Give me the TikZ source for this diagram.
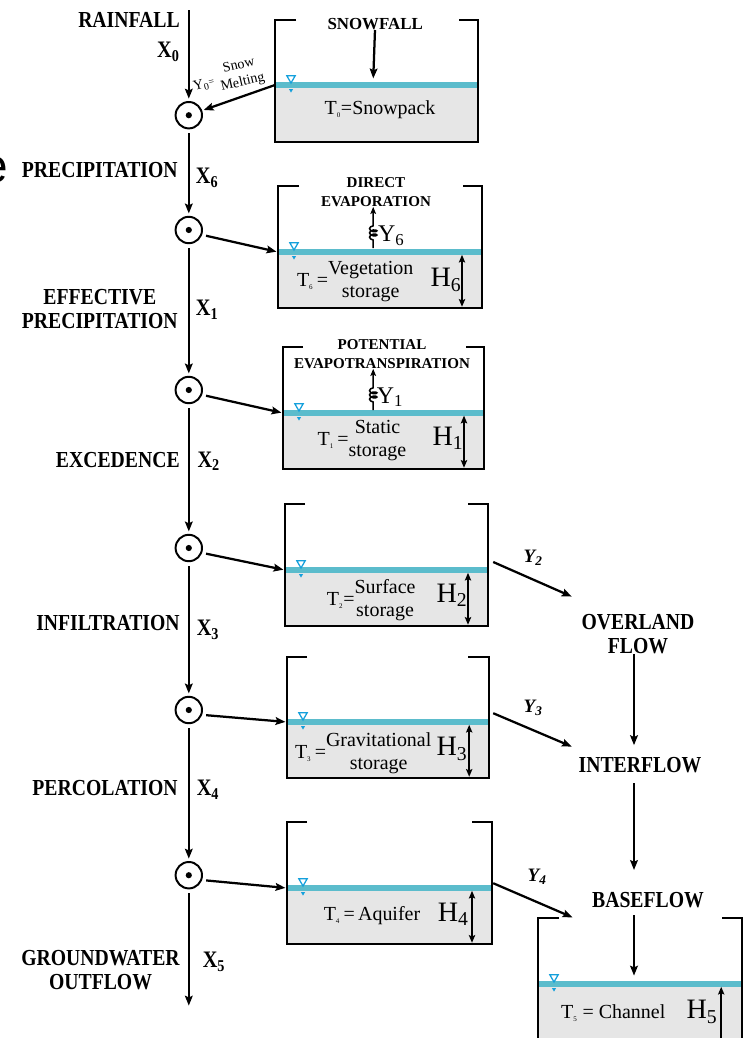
\documentclass[tikz,border=0pt]{standalone}
\usepackage{fontspec}
\setmainfont{Liberation Serif}
\newfontfamily\narrowserif[FakeStretch=0.86]{Liberation Serif}
\newfontfamily\slidesans{Liberation Sans}
\usepackage{tikz}
\usetikzlibrary{shapes,arrows.meta,decorations.pathmorphing}
\definecolor{waterblue}{RGB}{91,188,204}
\definecolor{levelblue}{RGB}{20,160,220}
\definecolor{pondgray}{RGB}{230,230,230}
\pgfdeclarelayer{edgelayer}
\pgfdeclarelayer{nodelayer}
\pgfsetlayers{edgelayer,nodelayer,main}
\tikzstyle{none}=[inner sep=0pt]
\tikzstyle{junction}=[circle,draw=black,fill=white,line width=1.400,minimum size=0.66cm,inner sep=0pt,path picture={\fill [black] (path picture bounding box.center) circle (2.2pt);}]
\tikzstyle{flowlabel}=[inner sep=0pt,align=center,font=\narrowserif\bfseries\fontsize{16.3}{16.8}\selectfont]
\tikzstyle{fluxlabel}=[inner sep=0pt,font=\narrowserif\bfseries\fontsize{16.8}{17}\selectfont]
\tikzstyle{smalllabel}=[inner sep=0pt,align=center,font=\bfseries\fontsize{10.7}{13.5}\selectfont]
\tikzstyle{tanktext}=[inner sep=0pt,font=\fontsize{14.2}{16.4}\selectfont]
\tikzstyle{hlabel}=[inner sep=0pt,font=\fontsize{20}{20}\selectfont]
\tikzstyle{vlabel}=[inner sep=0pt,font=\fontsize{17}{17}\selectfont]
\tikzstyle{runoff}=[inner sep=0pt,font=\bfseries\itshape\fontsize{13.5}{14}\selectfont]
\tikzstyle{meltlabel}=[inner sep=0pt,align=center,rotate=13,font=\fontsize{10}{12.2}\selectfont]
\tikzstyle{levelsign}=[regular polygon,regular polygon sides=3,shape border rotate=180,draw=levelblue,line width=0.900,minimum size=0.24cm,inner sep=0pt]
\tikzstyle{levelsub}=[regular polygon,regular polygon sides=3,shape border rotate=180,fill=levelblue,minimum size=0.12cm,inner sep=0pt]
\tikzstyle{wall}=[-,line width=2.100]
\tikzstyle{water}=[-,draw=waterblue,line width=4.200]
\tikzstyle{pond}=[fill=pondgray]
\tikzstyle{inarrow}=[-{Stealth[length=7pt,width=5.5pt,inset=1.2pt]}, line width=1.600, shorten >=.04cm]
\tikzstyle{mainarrow}=[-{Stealth[length=7pt,width=5.5pt,inset=1.2pt]}, line width=1.400, shorten >=.06cm]
\tikzstyle{gauge}=[{Stealth[length=5.5pt,width=4.5pt,inset=1pt]}-{Stealth[length=5.5pt,width=4.5pt,inset=1pt]}, line width=1.200, shorten >=.03cm]
\tikzstyle{vapour}=[-{Stealth[length=5pt,width=4pt,inset=1pt]}, line width=1.100, decorate, decoration={coil,amplitude=2.6pt,segment length=3pt,pre length=.2cm,post length=.38cm}]

\begin{document}
\begin{tikzpicture}
	\useasboundingbox (0, 0) rectangle (18.65, -25.95);
	\begin{pgfonlayer}{nodelayer}
		\node [style=junction] (0) at (4.72, -2.88) {};
		\node [style=junction] (1) at (4.72, -5.75) {};
		\node [style=junction] (2) at (4.72, -9.75) {};
		\node [style=junction] (3) at (4.72, -13.7) {};
		\node [style=junction] (4) at (4.72, -17.75) {};
		\node [style=junction] (5) at (4.72, -21.88) {};
		\node [style=none] (6) at (4.72, -0.25) {};
		\node [style=none] (7) at (4.72, -25.2) {};
		\node [style=flowlabel, anchor=east] (8) at (4.5, -0.49) {RAINFALL};
		\node [style=fluxlabel] (9) at (4.21, -1.3) {X\textsubscript{0}};
		\node [style=flowlabel, anchor=east] (10) at (4.45, -4.25) {PRECIPITATION};
		\node [style=fluxlabel] (11) at (5.18, -4.45) {X\textsubscript{6}};
		\node [style=flowlabel, anchor=east] (12) at (4.45, -7.73) {EFFECTIVE\\PRECIPITATION};
		\node [style=fluxlabel] (13) at (5.18, -7.75) {X\textsubscript{1}};
		\node [style=flowlabel, anchor=east] (14) at (4.5, -11.5) {EXCEDENCE};
		\node [style=fluxlabel] (15) at (5.22, -11.53) {X\textsubscript{2}};
		\node [style=flowlabel, anchor=east] (16) at (4.5, -15.58) {INFILTRATION};
		\node [style=fluxlabel] (17) at (5.2, -15.75) {X\textsubscript{3}};
		\node [style=flowlabel, anchor=east] (18) at (4.45, -19.7) {PERCOLATION};
		\node [style=fluxlabel] (19) at (5.2, -19.75) {X\textsubscript{4}};
		\node [style=flowlabel, anchor=east] (20) at (4.5, -24.25) {GROUNDWATER\\OUTFLOW};
		\node [style=fluxlabel] (21) at (5.35, -24.05) {X\textsubscript{5}};
		\node [style=flowlabel] (22) at (15.95, -15.85) {OVERLAND\\FLOW};
		\node [style=flowlabel] (23) at (16.0, -19.13) {INTERFLOW};
		\node [style=flowlabel] (24) at (16.2, -22.5) {BASEFLOW};
		\node [style=runoff] (25) at (13.33, -13.95) {Y\textsubscript{2}};
		\node [style=runoff] (26) at (13.33, -17.7) {Y\textsubscript{3}};
		\node [style=runoff] (27) at (13.43, -21.93) {Y\textsubscript{4}};
		\node [style=none] (28) at (12.33, -14.05) {};
		\node [style=none] (29) at (14.33, -14.93) {};
		\node [style=none] (30) at (12.33, -17.83) {};
		\node [style=none] (31) at (14.33, -18.68) {};
		\node [style=none] (32) at (12.33, -22.08) {};
		\node [style=none] (33) at (14.35, -22.95) {};
		\node [style=meltlabel] (34) at (5.1, -2.12) {Y\textsubscript{0}\raisebox{.3ex}{\scriptsize=}};
		\node [style=meltlabel] (35) at (6.02, -1.86) {Snow\\Melting};
		\node [style=none, anchor=base east, font=\slidesans\fontsize{34}{34}\selectfont] (36) at (0.22, -4.55) {e};
		% snowpack
		\node [style=none] (100) at (7.4, -0.5) {};
		\node [style=none] (101) at (6.875, -3.55) {};
		\node [style=none] (102) at (11.95, -0.5) {};
		\node [style=none] (103) at (11.475, -0.5) {};
		\node [style=none] (104) at (6.875, -2.125) {};
		\node [style=none] (105) at (11.95, -2.125) {};
		\node [style=levelsign] (106) at (7.275, -1.955) {};
		\node [style=levelsub] (107) at (7.275, -2.255) {};
		\node [style=tanktext] (108) at (9.5, -2.75) {T\textsubscript{\tiny 0}=Snowpack};
		\node [style=smalllabel, font=\bfseries\fontsize{12}{13}\selectfont] (112) at (9.38, -0.6) {SNOWFALL};
		\node [style=none] (113) at (9.33, -2.0) {};
		% vegetation
		\node [style=none] (120) at (7.475, -4.65) {};
		\node [style=none] (121) at (6.95, -7.7) {};
		\node [style=none] (122) at (12.05, -4.65) {};
		\node [style=none] (123) at (11.575, -4.65) {};
		\node [style=none] (124) at (6.95, -6.3) {};
		\node [style=none] (125) at (12.05, -6.3) {};
		\node [style=levelsign] (126) at (7.35, -6.13) {};
		\node [style=levelsub] (127) at (7.35, -6.43) {};
		\node [style=tanktext] (128) at (8.88, -7.03) {T\textsubscript{\tiny 6}\,=\begin{tabular}{@{}c@{}}Vegetation\\storage\end{tabular}};
		\node [style=hlabel] (129) at (11.15, -7.0) {H\textsubscript{6}};
		\node [style=none] (130) at (11.55, -6.37) {};
		\node [style=smalllabel] (132) at (9.4, -4.8) {DIRECT\\EVAPORATION};
		\node [style=none] (133) at (9.33, -6.2) {};
		\node [style=vlabel] (134) at (9.78, -5.9) {Y\textsubscript{6}};
		% static
		\node [style=none] (140) at (7.575, -8.675) {};
		\node [style=none] (141) at (7.075, -11.725) {};
		\node [style=none] (142) at (12.1, -8.675) {};
		\node [style=none] (143) at (11.65, -8.675) {};
		\node [style=none] (144) at (7.075, -10.325) {};
		\node [style=none] (145) at (12.1, -10.325) {};
		\node [style=levelsign] (146) at (7.475, -10.155) {};
		\node [style=levelsub] (147) at (7.475, -10.455) {};
		\node [style=tanktext] (148) at (9.05, -11.0) {T\textsubscript{\tiny 1}\,=\begin{tabular}{@{}c@{}}Static\\storage\end{tabular}};
		\node [style=hlabel] (149) at (11.2, -10.95) {H\textsubscript{1}};
		\node [style=none] (150) at (11.6, -10.39) {};
		\node [style=smalllabel] (152) at (9.55, -8.85) {POTENTIAL\\EVAPOTRANSPIRATION};
		\node [style=none] (153) at (9.33, -10.25) {};
		\node [style=vlabel] (154) at (9.75, -9.93) {Y\textsubscript{1}};
		% surface
		\node [style=none] (160) at (7.625, -12.6) {};
		\node [style=none] (161) at (7.125, -15.65) {};
		\node [style=none] (162) at (12.2, -12.6) {};
		\node [style=none] (163) at (11.7, -12.6) {};
		\node [style=none] (164) at (7.125, -14.25) {};
		\node [style=none] (165) at (12.2, -14.25) {};
		\node [style=levelsign] (166) at (7.525, -14.08) {};
		\node [style=levelsub] (167) at (7.525, -14.38) {};
		\node [style=tanktext] (168) at (9.28, -15.0) {T\textsubscript{\tiny 2}=\begin{tabular}{@{}c@{}}Surface\\storage\end{tabular}};
		\node [style=hlabel] (169) at (11.3, -14.88) {H\textsubscript{2}};
		\node [style=none] (170) at (11.7, -14.32) {};
		% gravitational
		\node [style=none] (180) at (7.675, -16.425) {};
		\node [style=none] (181) at (7.175, -19.45) {};
		\node [style=none] (182) at (12.225, -16.425) {};
		\node [style=none] (183) at (11.7, -16.425) {};
		\node [style=none] (184) at (7.175, -18.05) {};
		\node [style=none] (185) at (12.225, -18.05) {};
		\node [style=levelsign] (186) at (7.575, -17.88) {};
		\node [style=levelsub] (187) at (7.575, -18.18) {};
		\node [style=tanktext] (188) at (9.08, -18.83) {T\textsubscript{\tiny 3}\,=\begin{tabular}{@{}c@{}}Gravitational\\storage\end{tabular}};
		\node [style=hlabel] (189) at (11.3, -18.72) {H\textsubscript{3}};
		\node [style=none] (190) at (11.73, -18.12) {};
		% aquifer
		\node [style=none] (200) at (7.675, -20.55) {};
		\node [style=none] (201) at (7.175, -23.6) {};
		\node [style=none] (202) at (12.3, -20.55) {};
		\node [style=none] (203) at (11.8, -20.55) {};
		\node [style=none] (204) at (7.175, -22.2) {};
		\node [style=none] (205) at (12.3, -22.2) {};
		\node [style=levelsign] (206) at (7.575, -22.03) {};
		\node [style=levelsub] (207) at (7.575, -22.33) {};
		\node [style=tanktext] (208) at (9.3, -22.88) {T\textsubscript{\tiny 4}\,=\,Aquifer};
		\node [style=hlabel] (209) at (11.33, -22.85) {H\textsubscript{4}};
		\node [style=none] (210) at (11.8, -22.27) {};
		% channel
		\node [style=none] (220) at (13.975, -22.95) {};
		\node [style=none] (221) at (13.45, -26.5) {};
		\node [style=none] (222) at (18.55, -22.95) {};
		\node [style=none] (223) at (18.05, -22.95) {};
		\node [style=none] (224) at (13.45, -24.6) {};
		\node [style=none] (225) at (18.55, -24.6) {};
		\node [style=levelsign] (226) at (13.85, -24.43) {};
		\node [style=levelsub] (227) at (13.85, -24.73) {};
		\node [style=tanktext] (228) at (15.33, -25.33) {T\textsubscript{\tiny 5} = Channel};
		\node [style=hlabel] (229) at (17.55, -25.3) {H\textsubscript{5}};
		\node [style=none] (230) at (18.03, -24.67) {};
		\node [style=none] (233) at (15.85, -24.43) {};
	\end{pgfonlayer}
	\begin{pgfonlayer}{edgelayer}
		\fill [style=pond] (101.center) rectangle (105.center);
		\fill [style=pond] (121.center) rectangle (125.center);
		\fill [style=pond] (141.center) rectangle (145.center);
		\fill [style=pond] (161.center) rectangle (165.center);
		\fill [style=pond] (181.center) rectangle (185.center);
		\fill [style=pond] (201.center) rectangle (205.center);
		\fill [style=pond] (221.center) rectangle (225.center);
		\draw [style=water] (104.center) to (105.center);
		\draw [style=water] (124.center) to (125.center);
		\draw [style=water] (144.center) to (145.center);
		\draw [style=water] (164.center) to (165.center);
		\draw [style=water] (184.center) to (185.center);
		\draw [style=water] (204.center) to (205.center);
		\draw [style=water] (224.center) to (225.center);
		\draw [style=wall] (100.center) -| (101.center) -| (102.center) -- (103.center);
		\draw [style=wall] (120.center) -| (121.center) -| (122.center) -- (123.center);
		\draw [style=wall] (140.center) -| (141.center) -| (142.center) -- (143.center);
		\draw [style=wall] (160.center) -| (161.center) -| (162.center) -- (163.center);
		\draw [style=wall] (180.center) -| (181.center) -| (182.center) -- (183.center);
		\draw [style=wall] (200.center) -| (201.center) -| (202.center) -- (203.center);
		\draw [style=wall] (220.center) -| (221.center) -| (222.center) -- (223.center);
		\draw [style=mainarrow] (6.center) to (0);
		\draw [style=mainarrow, shorten <=.1cm] (0) to (1);
		\draw [style=mainarrow, shorten <=.1cm] (1) to (2);
		\draw [style=mainarrow, shorten <=.1cm] (2) to (3);
		\draw [style=mainarrow, shorten <=.1cm] (3) to (4);
		\draw [style=mainarrow, shorten <=.1cm] (4) to (5);
		\draw [style=mainarrow, shorten <=.1cm] (5) to (7.center);
		\draw [style=inarrow] (104.center) to (0);
		\draw [style=inarrow, shorten <=.1cm] (1.-20) to (124.center);
		\draw [style=inarrow, shorten <=.1cm] (2.-20) to (144.center);
		\draw [style=inarrow, shorten <=.1cm] (3.-20) to (164.center);
		\draw [style=inarrow, shorten <=.1cm] (4.-20) to (184.center);
		\draw [style=inarrow, shorten <=.1cm] (5.-20) to (204.center);
		\draw [style=inarrow] (112) to (113.center);
		\draw [style=vapour] (133.center) to (133.center |- 132.south);
		\draw [style=vapour] (153.center) to (153.center |- 152.south);
		\draw [style=gauge] (130.center) to (130.center |- 121.center);
		\draw [style=gauge] (150.center) to (150.center |- 141.center);
		\draw [style=gauge] (170.center) to (170.center |- 161.center);
		\draw [style=gauge] (190.center) to (190.center |- 181.center);
		\draw [style=gauge] (210.center) to (210.center |- 201.center);
		\draw [style=gauge] (230.center) to (230.center |- 221.center);
		\draw [style=inarrow] (28.center) to (29.center);
		\draw [style=inarrow] (30.center) to (31.center);
		\draw [style=inarrow] (32.center) to (33.center);
		\draw [style=inarrow, shorten >=.3cm] (22.south -| 233.center) to (23.north -| 233.center);
		\draw [style=inarrow, shorten <=.25cm, shorten >=.55cm] (23.south -| 233.center) to (24.north -| 233.center);
		\draw [style=inarrow, shorten <=.18cm] (24.south -| 233.center) to (233.center);
	\end{pgfonlayer}
\end{tikzpicture}
\end{document}
